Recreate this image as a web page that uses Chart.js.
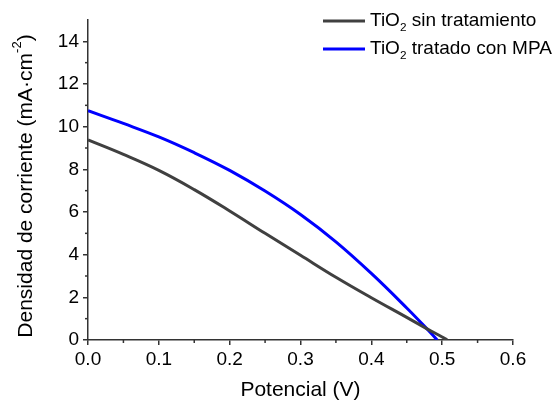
<!DOCTYPE html>
<html>
<head>
<meta charset="utf-8">
<script src="https://cdn.jsdelivr.net/npm/chart.js@4/dist/chart.umd.min.js"></script>
<style>
  html, body { margin: 0; padding: 0; background: #fff; }
  canvas { display: block; }
</style>
</head>
<body>
<canvas id="jv" width="558" height="401"></canvas>
<script>
// J-V curves: potential (V) vs current density (mA/cm2)
const potSinTrat = [0, 0.05, 0.1, 0.15, 0.2, 0.25, 0.3, 0.35, 0.4, 0.45, 0.48, 0.5, 0.507];
const jSinTrat = [9.38, 8.7, 7.95, 7.05, 6.05, 5.0, 3.97, 2.94, 1.98, 1.06, 0.5, 0.14, 0];

const potMPA = [0, 0.05, 0.1, 0.15, 0.2, 0.25, 0.3, 0.35, 0.4, 0.45, 0.48, 0.493];
const jMPA = [10.75, 10.15, 9.52, 8.78, 7.95, 6.98, 5.88, 4.6, 3.12, 1.5, 0.47, 0];

// legend labels, split so the "2" can be drawn as a subscript
const labelSinTrat = [['TiO'], ['2', 'sub'], [' sin tratamiento']];
const labelMPA = [['TiO'], ['2', 'sub'], [' tratado con MPA']];
const yTitle = [['Densidad de corriente (mA\u00b7cm'], ['-2', 'sup'], [')']];

const xMinorTicks = [0.05, 0.15, 0.25, 0.35, 0.45, 0.55];
const yMinorTicks = [1, 3, 5, 7, 9, 11, 13];

const FONT = '"Liberation Sans", Arial, sans-serif';
const AXIS_COLOR = '#333';

function toPoints(xs, ys) {
  return xs.map((x, i) => ({ x: x, y: ys[i] }));
}

// draws text pieces left to right, with sub/superscripts at a smaller size
function drawRich(ctx, parts, x, y, size) {
  let cx = x;
  parts.forEach(([t, kind]) => {
    let s = size, dy = 0;
    if (kind === 'sub') { s = size * 0.62; dy = size * 0.38; }
    if (kind === 'sup') { s = size * 0.62; dy = -size * 0.4; }
    ctx.font = s + 'px ' + FONT;
    ctx.fillText(t, cx, y + dy);
    cx += ctx.measureText(t).width;
  });
  return cx - x;
}

function richWidth(ctx, parts, size) {
  let w = 0;
  parts.forEach(([t, kind]) => {
    const s = kind ? size * 0.62 : size;
    ctx.font = s + 'px ' + FONT;
    w += ctx.measureText(t).width;
  });
  return w;
}

const decorPlugin = {
  id: 'decor',
  afterDraw(chart) {
    const { ctx, scales } = chart;
    const xs = scales.x, ys = scales.y;
    ctx.save();
    ctx.strokeStyle = AXIS_COLOR;
    ctx.lineWidth = 1.5;
    // minor ticks
    xMinorTicks.forEach(v => {
      const px = xs.getPixelForValue(v);
      ctx.beginPath();
      ctx.moveTo(px, xs.top);
      ctx.lineTo(px, xs.top + 3);
      ctx.stroke();
    });
    yMinorTicks.forEach(v => {
      const py = ys.getPixelForValue(v);
      ctx.beginPath();
      ctx.moveTo(ys.right, py);
      ctx.lineTo(ys.right - 3, py);
      ctx.stroke();
    });

    // y axis title with superscript
    ctx.fillStyle = '#000';
    ctx.textBaseline = 'middle';
    ctx.textAlign = 'left';
    const tSize = 21;
    const tw = richWidth(ctx, yTitle, tSize);
    ctx.translate(26, (chart.chartArea.top + chart.chartArea.bottom) / 2 + 6);
    ctx.rotate(-Math.PI / 2);
    drawRich(ctx, yTitle, -tw / 2, 0, tSize);
    ctx.restore();

    // legend
    ctx.save();
    ctx.textBaseline = 'middle';
    ctx.textAlign = 'left';
    ctx.fillStyle = '#000';
    const rows = [
      { parts: labelSinTrat, color: chart.data.datasets[0].borderColor, y: 21 },
      { parts: labelMPA, color: chart.data.datasets[1].borderColor, y: 49 }
    ];
    rows.forEach(r => {
      ctx.strokeStyle = r.color;
      ctx.lineWidth = 3;
      ctx.beginPath();
      ctx.moveTo(323, r.y);
      ctx.lineTo(365, r.y);
      ctx.stroke();
      drawRich(ctx, r.parts, 370, r.y, 19);
    });
    ctx.restore();
  }
};

new Chart(document.getElementById('jv'), {
  type: 'line',
  data: {
    datasets: [
      {
        label: 'TiO2 sin tratamiento',
        data: toPoints(potSinTrat, jSinTrat),
        borderColor: '#404040',
        borderWidth: 3,
        pointRadius: 0,
        tension: 0.4,
        fill: false
      },
      {
        label: 'TiO2 tratado con MPA',
        data: toPoints(potMPA, jMPA),
        borderColor: '#0000ff',
        borderWidth: 3,
        pointRadius: 0,
        tension: 0.4,
        fill: false
      }
    ]
  },
  options: {
    responsive: false,
    animation: false,
    devicePixelRatio: 1,
    layout: { padding: { top: 20, right: 45, left: 0, bottom: 0 } },
    plugins: {
      legend: { display: false },
      tooltip: { enabled: false }
    },
    scales: {
      x: {
        type: 'linear',
        min: 0,
        max: 0.6,
        afterFit(scale) { scale.height = 61; },
        border: { color: AXIS_COLOR, width: 1.5 },
        grid: { drawOnChartArea: false, tickLength: 5, color: AXIS_COLOR, lineWidth: 1.5 },
        ticks: {
          stepSize: 0.1,
          color: '#000',
          padding: 3,
          maxRotation: 0,
          font: { family: FONT, size: 19 },
          callback: v => v.toFixed(1)
        },
        title: {
          display: true,
          text: 'Potencial (V)',
          color: '#000',
          font: { family: FONT, size: 21, lineHeight: 1 },
          padding: { top: 0, bottom: 0 }
        }
      },
      y: {
        min: 0,
        max: 15,
        afterFit(scale) { scale.width = 88; },
        border: { color: AXIS_COLOR, width: 1.5 },
        grid: { drawOnChartArea: false, tickLength: 5, color: AXIS_COLOR, lineWidth: 1.5 },
        ticks: {
          stepSize: 2,
          includeBounds: false,
          color: '#000',
          padding: 4,
          font: { family: FONT, size: 19 }
        }
      }
    }
  },
  plugins: [decorPlugin]
});
</script>
</body>
</html>
